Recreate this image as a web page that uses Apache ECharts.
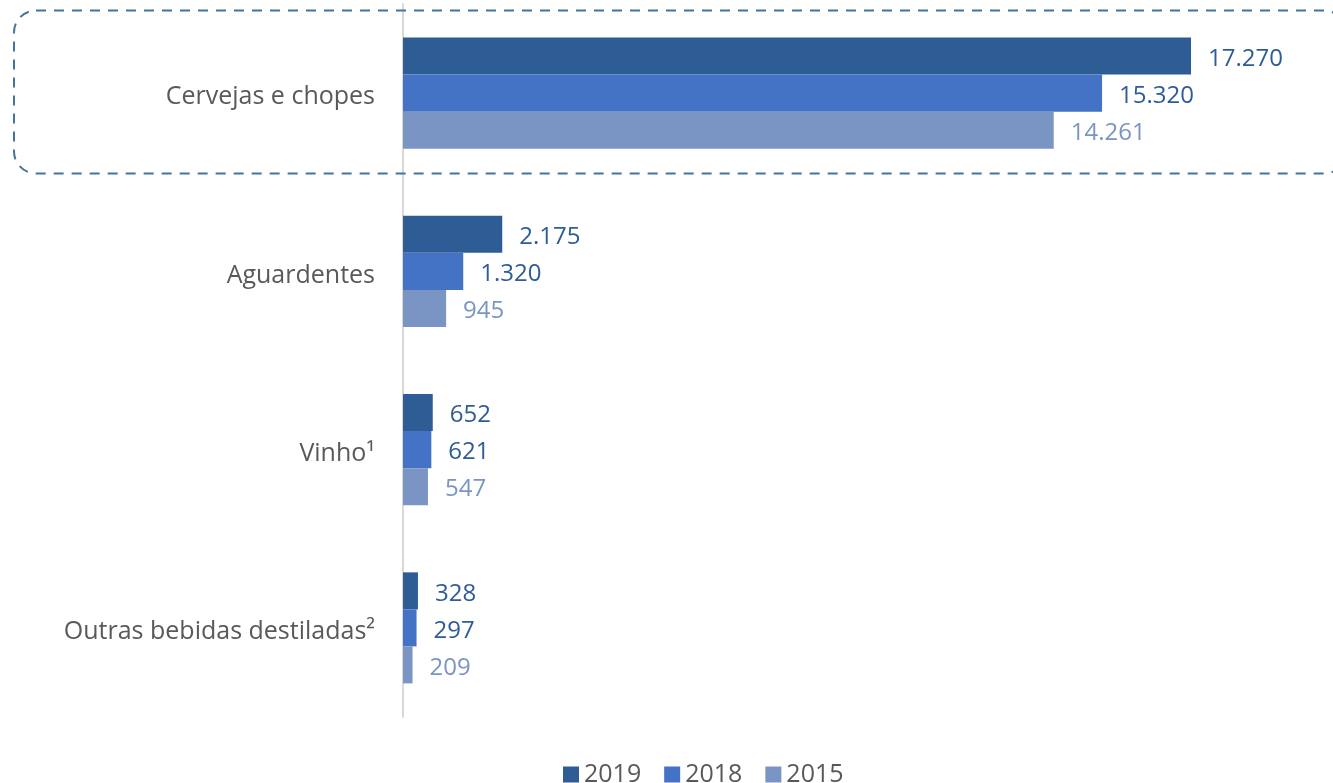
<!DOCTYPE html>
<html>
<head>
<meta charset="utf-8">
<script src="https://cdn.jsdelivr.net/npm/echarts@6/dist/echarts.min.js"></script>
<style>
html,body{margin:0;padding:0;background:#fff;}
#c{width:1333px;height:783px;}
</style>
</head>
<body>
<div id="c"></div>
<script>
const categories = ['Cervejas e chopes', 'Aguardentes', 'Vinho¹', 'Outras bebidas destiladas²'];
const seriesNames = ['2019', '2018', '2015'];
const values2019 = [17270, 2175, 652, 328];
const values2018 = [15320, 1320, 621, 297];
const values2015 = [14261, 945, 547, 209];

const colors = ['#2E5D96', '#4472C4', '#7A95C3'];
const labelColors = ['#2E5C96', '#2E5C96', '#7A95C3'];
const allValues = [values2019, values2018, values2015];

const fmt = v => v.toLocaleString('de-DE');

const chart = echarts.init(document.getElementById('c'), null, {renderer: 'canvas'});
const FONT = '"Open Sans", "Noto Sans", sans-serif';

chart.setOption({
  animation: false,
  textStyle: {fontFamily: FONT},
  grid: {left: 403, right: 17.4, top: 4, bottom: 66, containLabel: false},
  legend: {
    top: 757,
    left: 558,
    itemWidth: 16,
    itemHeight: 16,
    itemGap: 23,
    icon: 'rect',
    textStyle: {fontSize: 25, color: '#595959', fontFamily: FONT},
    data: seriesNames
  },
  xAxis: {
    type: 'value',
    min: 0,
    max: 20000,
    show: false,
    splitLine: {show: false}
  },
  yAxis: {
    type: 'category',
    inverse: true,
    data: categories,
    axisLine: {show: true, lineStyle: {color: '#D9D9D9', width: 2}},
    axisTick: {show: false},
    axisLabel: {
      margin: 28,
      formatter: v => '{a|' + v + '}',
      rich: {a: {fontSize: 25, color: '#595959', fontFamily: FONT, padding: [8, 0, 0, 0]}}
    }
  },
  graphic: [{
    type: 'rect',
    shape: {x: 14, y: 10.5, width: 1332, height: 163, r: 22},
    style: {fill: 'none', stroke: '#44739E', lineWidth: 2, lineDash: [10, 8]},
    z: 10
  }],
  series: seriesNames.map((name, i) => ({
    name: name,
    type: 'bar',
    data: allValues[i],
    barGap: '0%',
    barCategoryGap: '37.7%',
    itemStyle: {color: colors[i]},
    label: {
      show: true,
      position: 'right',
      distance: 17,
      offset: [0, 3],
      fontSize: 24,
      color: labelColors[i],
      fontFamily: FONT,
      formatter: p => fmt(p.value)
    }
  }))
});
</script>
</body>
</html>
